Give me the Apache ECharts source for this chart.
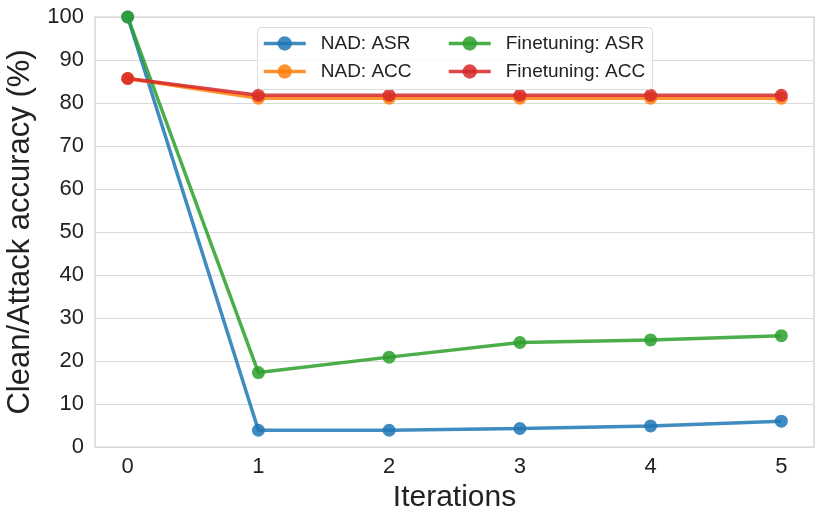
<!DOCTYPE html>
<html>
<head>
<meta charset="utf-8">
<script src="https://cdn.jsdelivr.net/npm/echarts@6/dist/echarts.min.js"></script>
<style>
html, body {margin:0; padding:0; background:#fff;}
#main {width:823px; height:522px;}
</style>
</head>
<body>
<div id="main"></div>
<script type="text/javascript">
// data
var iterations = [0, 1, 2, 3, 4, 5];
var nadAsr = [100, 3.9, 3.9, 4.3, 4.9, 6.0];
var nadAcc = [85.7, 81.1, 81.1, 81.1, 81.1, 81.1];
var ftAsr = [100, 17.3, 20.9, 24.3, 24.9, 25.9];
var ftAcc = [85.7, 81.8, 81.8, 81.8, 81.8, 81.8];
var yTicks = [0, 10, 20, 30, 40, 50, 60, 70, 80, 90, 100];

var font = 'Liberation Sans, Arial, sans-serif';

function pairs(vals) {
	return iterations.map(function (x, i) { return [x, vals[i]]; });
}

function mkSeries(name, vals, color) {
	return {
		name: name,
		type: 'line',
		data: pairs(vals),
		symbol: 'circle',
		symbolSize: 13,
		lineStyle: {width: 3.5, color: color, opacity: 0.85},
		itemStyle: {color: color, opacity: 0.85},
		emphasis: {disabled: true},
		animation: false
	};
}

function mkLegend(names, left) {
	return {
		data: names,
		left: left, top: 34,
		orient: 'vertical',
		itemWidth: 42, itemHeight: 18, itemGap: 9,
		padding: 0, z: 10,
		lineStyle: {width: 3.5},
		textStyle: {fontSize: 19, color: '#222', fontFamily: font, padding: [0, 0, 0, 10]}
	};
}

var dom = document.getElementById('main');
var myChart = echarts.init(dom);
var option = {
	backgroundColor: '#fff',
	textStyle: {fontFamily: font},
	grid: {left: 95, right: 9, top: 17, bottom: 75, show: true, borderColor: '#cccccc', borderWidth: 1.2, outerBoundsMode: 'none', containLabel: false},
	graphic: [{
		type: 'rect', left: 257, top: 27, z: 5,
		shape: {width: 395, height: 62, r: 4},
		style: {fill: 'rgba(255,255,255,0.8)', stroke: '#dddddd', lineWidth: 1}
	}],
	legend: [
		mkLegend(['NAD: ASR', 'NAD: ACC'], 262),
		mkLegend(['Finetuning: ASR', 'Finetuning: ACC'], 447)
	],
	xAxis: {
		type: 'value', min: -0.25, max: 5.25, interval: 0.25,
		name: 'Iterations', nameLocation: 'middle', nameGap: 34,
		nameTextStyle: {fontSize: 30, color: '#222', fontFamily: font},
		axisLine: {show: false}, axisTick: {show: false}, splitLine: {show: false},
		axisLabel: {
			fontSize: 22, color: '#222', margin: 9, fontFamily: font,
			formatter: function (v) { return iterations.indexOf(v) >= 0 ? String(v) : ''; }
		}
	},
	yAxis: {
		type: 'value', min: yTicks[0], max: yTicks[yTicks.length - 1], interval: 10,
		name: 'Clean/Attack accuracy (%)', nameLocation: 'middle', nameGap: 49,
		nameTextStyle: {fontSize: 31, color: '#222', fontFamily: font},
		axisLine: {show: false}, axisTick: {show: false},
		axisLabel: {fontSize: 22, color: '#222', margin: 11, fontFamily: font},
		splitLine: {lineStyle: {color: '#d9d9d9', width: 1.2}}
	},
	series: [
		mkSeries('NAD: ASR', nadAsr, '#1f77b4'),
		mkSeries('NAD: ACC', nadAcc, '#ff7f0e'),
		mkSeries('Finetuning: ASR', ftAsr, '#2ca02c'),
		mkSeries('Finetuning: ACC', ftAcc, '#d62728')
	]
};
myChart.setOption(option, true);
</script>
</body>
</html>
